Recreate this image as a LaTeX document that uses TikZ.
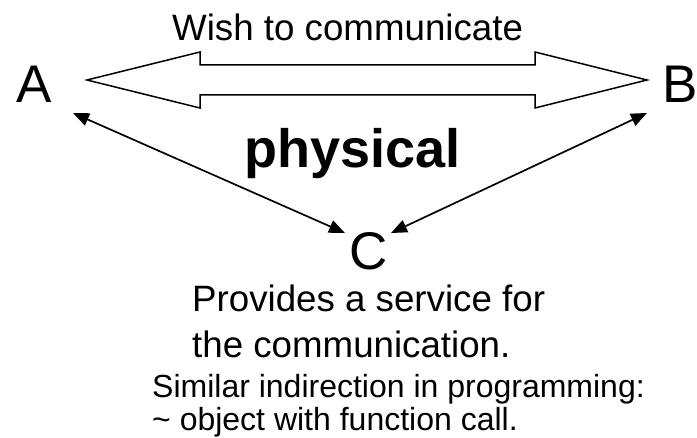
\documentclass[tikz,border=0pt]{standalone}
\usepackage{fontspec}
\setmainfont{Liberation Sans}
\usetikzlibrary{arrows.meta}
\begin{document}
\begin{tikzpicture}[x=1pt,y=-1pt,
  lbl/.style={inner sep=0pt,anchor=base west},
  big/.style={lbl,font=\fontsize{53}{60}\selectfont},
  mid/.style={lbl,font=\fontsize{36.7}{44}\selectfont},
  small/.style={lbl,font=\fontsize{32}{38}\selectfont},
  fat/.style={draw=black,line width=1.5pt,line join=miter,fill=white},
  thin/.style={draw=black,line width=1.7pt,{Triangle[length=16pt,width=13pt]}-{Triangle[length=16pt,width=13pt]}}]
\useasboundingbox (0,0) rectangle (697,438);
\node[big] (A) at (16,103) {A};
\node[big] (B) at (662,103) {B};
\node[big] (C) at (349.5,270) {C};
\node[mid] (wish) at (172,41) {Wish to communicate};
\node[lbl,font=\fontsize{54}{60}\selectfont\bfseries] (phys) at (244,168) {physical};
\node[mid] (prov) at (192,312) {Provides a service for};
\node[mid] (comm) at (192,358) {the communication.};
\node[small] (sim) at (152,398) {Similar indirection in programming:};
\node[small] (obj) at (152,431) {\textasciitilde\ object with function call.};
\coordinate (tipL) at (87,80);
\coordinate (tipR) at (647,80);
\draw[fat] (tipL) -- (200,52) -- (200,65) -- (535,65) -- (535,52) -- (tipR)
  -- (535,108) -- (535,95) -- (200,95) -- (200,108) -- cycle;
\coordinate (aA) at (73,113);
\coordinate (aB) at (647,113);
\coordinate (cL) at (345,233);
\coordinate (cR) at (391,233);
\draw[thin] (aA) -- (cL);
\draw[thin] (aB) -- (cR);
\end{tikzpicture}
\end{document}
